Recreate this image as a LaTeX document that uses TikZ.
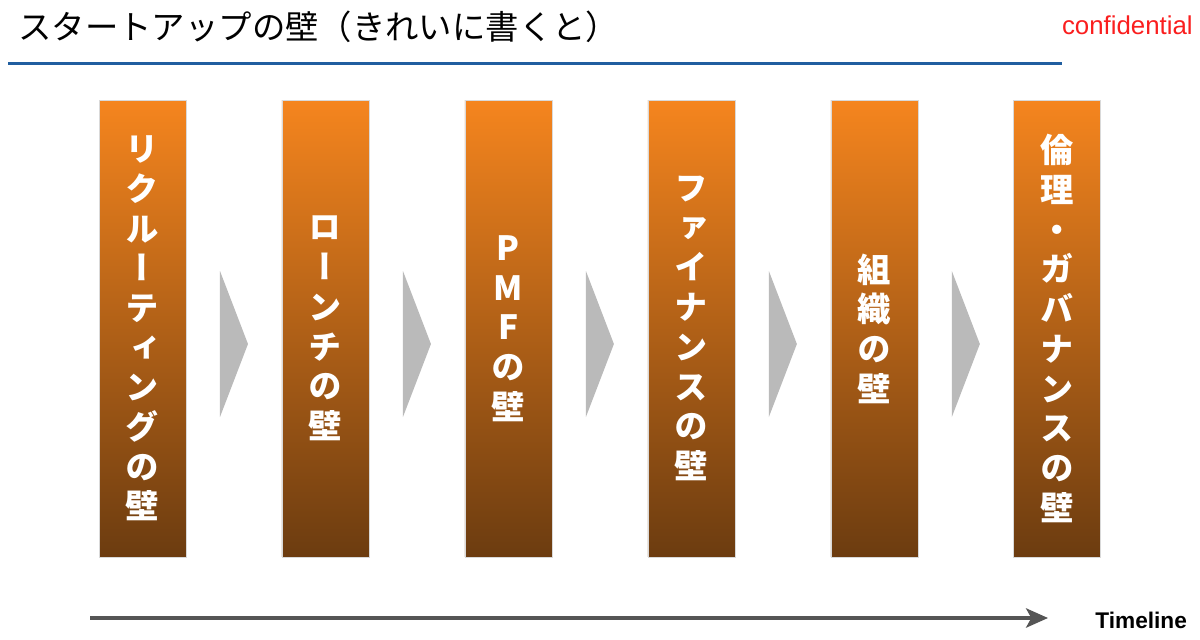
\documentclass[tikz,border=0pt]{standalone}
\usepackage{fontspec}
\setmainfont{Liberation Sans}
\newfontfamily\jptitle{Noto Sans CJK JP}
\newfontfamily\jpvert[RawFeature=+vert]{Noto Sans CJK JP}
\usetikzlibrary{positioning,calc,arrows.meta}
\definecolor{wallTop}{RGB}{245,133,30}
\definecolor{wallBottom}{RGB}{108,60,16}
\definecolor{ruleBlue}{RGB}{32,94,160}
\definecolor{confRed}{RGB}{250,30,30}
\definecolor{timeGray}{RGB}{85,85,85}

\begin{document}
\begin{tikzpicture}[x=0.02cm,y=-0.02cm,
	wall/.style={ % 壁の縦長ボックス
		draw=black!15, line width=0.4pt,
		top color=wallTop, bottom color=wallBottom,
		minimum width=1.74cm, minimum height=9.14cm,
		inner sep=0pt, outer sep=0pt, text=white, align=center,
		font=\jpvert\bfseries\fontsize{19}{22.6}\selectfont
	},
	chevron/.style={fill=black!27},
	node distance=1.92cm
]
	\useasboundingbox (0,0) rectangle (1200,639);
	%% タイトル
	\node[anchor=west, inner sep=0pt, font=\jptitle\fontsize{19}{21}\selectfont] (title) at (18,27) {スタートアップの壁（きれいに書くと）};
	\node[anchor=east, inner sep=0pt, text=confRed, font=\fontsize{14.7}{16}\selectfont] (conf) at (1193,25) {confidential};
	\coordinate (ruleL) at (8,63.5);
	\coordinate (ruleR) at (1062,63.5);
	\draw[ruleBlue, line width=1.6pt] (ruleL) -- (ruleR);
	%% 壁
	\node[wall] (wall1) at (142.5,328.5) {リ\\ク\\ル\\ー\\テ\\ィ\\ン\\グ\\の\\壁};
	\node[wall, right=of wall1] (wall2) {ロ\\ー\\ン\\チ\\の\\壁};
	\node[wall, right=of wall2] (wall3) {P\\M\\F\\の\\壁};
	\node[wall, right=of wall3] (wall4) {フ\\ァ\\イ\\ナ\\ン\\ス\\の\\壁};
	\node[wall, right=of wall4] (wall5) {組\\織\\の\\壁};
	\node[wall, right=of wall5] (wall6) {倫\\理\\・\\ガ\\バ\\ナ\\ン\\ス\\の\\壁};
	% 壁の間の三角
	\foreach \a/\b in {1/2,2/3,3/4,4/5,5/6}{
		\coordinate (m\a) at ($(wall\a.east)!0.5!(wall\b.west)$);
		\fill[chevron] ($(m\a)+(-14,-57.5)$) -- ($(m\a)+(14,15.5)$) -- ($(m\a)+(-14,88.5)$) -- cycle;
	}
	%% Timeline
	\coordinate (tl0) at (90,618);
	\coordinate (tl1) at (1048,618);
	\draw[timeGray, line width=2pt, -{Stealth[length=12.5pt, width=11pt, inset=3pt]}] (tl0) -- (tl1);
	\node[anchor=west, inner sep=0pt, font=\bfseries\fontsize{12.9}{14}\selectfont] (timeline) at (1095,620) {Timeline};
\end{tikzpicture}
\end{document}
